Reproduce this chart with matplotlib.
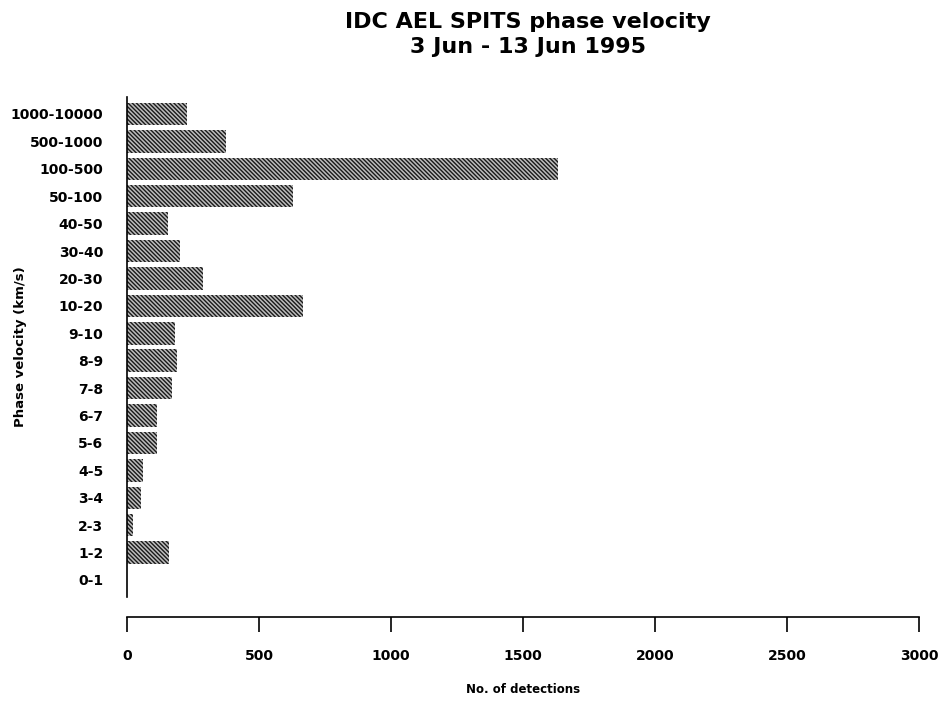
import numpy as np
import matplotlib.pyplot as plt

plt.rcParams['font.family'] = ['DejaVu Sans']
plt.rcParams['hatch.linewidth'] = 1.0

# Phase velocity bins (km/s) and detection counts
bins = ['0-1', '1-2', '2-3', '3-4', '4-5', '5-6', '6-7', '7-8', '8-9', '9-10',
        '10-20', '20-30', '30-40', '40-50', '50-100', '100-500', '500-1000',
        '1000-10000']
counts = [0, 158, 24, 52, 59, 115, 115, 169, 191, 182,
          668, 289, 201, 157, 628, 1632, 375, 226]
xticks = [0, 500, 1000, 1500, 2000, 2500, 3000]

fig = plt.figure(figsize=(9.42, 7.08), dpi=100)
ax = fig.add_axes([0.1348, 0.1568, 0.8408, 0.7062])

# spines first: moving the bottom spine resets the tick labels
for s in ['top', 'right']:
    ax.spines[s].set_visible(False)
ax.spines['left'].set_linewidth(1.2)
ax.spines['bottom'].set_linewidth(1.2)
ax.spines['bottom'].set_position(('outward', 14.4))

y = np.arange(len(bins))
ax.barh(y, counts, height=0.82, color='#bdbdbd', edgecolor='#1a1a1a',
        hatch='\\\\\\\\\\\\\\\\', linewidth=0)

ax.set_ylim(-0.62, len(bins) - 1 + 0.62)
ax.set_xlim(0, 3000)
ax.set_yticks(y)
ax.set_yticklabels(bins, fontsize=10, fontweight='bold')
ax.set_xticks(xticks)
ax.set_xticklabels([str(v) for v in xticks], fontsize=10, fontweight='bold')

ax.tick_params(axis='y', length=0, pad=17)
ax.tick_params(axis='x', length=10.8, width=1.2, pad=12, direction='out')

ax.set_xlabel('No. of detections', fontsize=8.5, fontweight='bold', va='center')
ax.xaxis.set_label_coords(0.5, -0.186)
ax.set_ylabel('Phase velocity (km/s)', fontsize=9.5, fontweight='bold', va='center')
ax.yaxis.set_label_coords(-0.135, 0.5)

fig.text(0.5605, 0.969, 'IDC AEL SPITS phase velocity', ha='center', va='center',
         fontsize=16, fontweight='bold')
fig.text(0.5605, 0.934, '3 Jun - 13 Jun 1995', ha='center', va='center',
         fontsize=16, fontweight='bold')

fig.savefig('out.png', dpi=100)
